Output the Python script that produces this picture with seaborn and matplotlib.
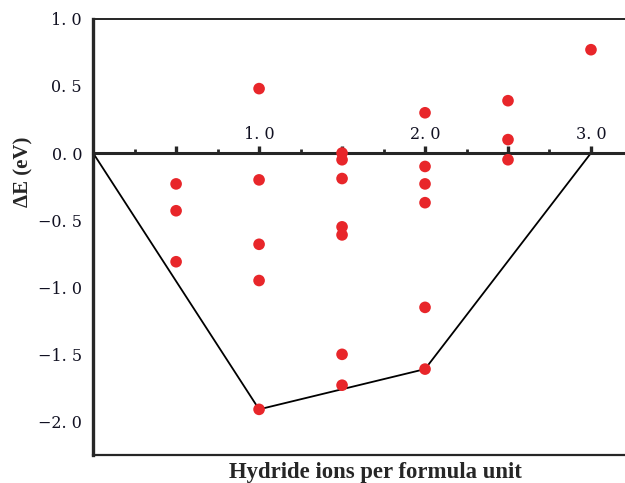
import pandas as pd
import matplotlib.pyplot as plt
import seaborn as sns
from matplotlib.ticker import FixedLocator, FuncFormatter

# -----------------------------
# Data
# -----------------------------

x_h05 = [0.5, 0.5, 0.5]
e_h05 = [-0.23, -0.43, -0.81]
x_h10 = [1.0, 1.0, 1.0, 1.0, 1.0]
e_h10 = [0.48, -0.20, -0.68, -0.95, -1.91]
x_h15 = [1.5, 1.5, 1.5, 1.5, 1.5, 1.5, 1.5]
e_h15 = [0.0, -0.05, -0.19, -0.55, -0.61, -1.50, -1.73]
x_h20 = [2.0, 2.0, 2.0, 2.0, 2.0, 2.0]
e_h20 = [0.30, -0.10, -0.23, -0.37, -1.15, -1.61]
x_h25 = [2.5, 2.5, 2.5]
e_h25 = [0.39, 0.10, -0.05]
x_h30 = [3.0]
e_h30 = [0.77]

hull_x = [0.0, 1.0, 2.0, 3.0]
hull_e = [0.0, -1.91, -1.61, 0.0]

points = pd.DataFrame({
    "x": x_h05 + x_h10 + x_h15 + x_h20 + x_h25 + x_h30,
    "dE": e_h05 + e_h10 + e_h15 + e_h20 + e_h25 + e_h30,
})
hull = pd.DataFrame({"x": hull_x, "dE": hull_e})

# -----------------------------
# Plot
# -----------------------------

sns.set_style("white")
plt.rcParams["font.family"] = ["DejaVu Serif"]

fig = plt.figure(figsize=(6.25, 4.83), dpi=100)
ax = fig.add_axes([0.149, 0.058, 0.851, 0.903])

sns.lineplot(data=hull, x="x", y="dE", sort=False, color="black",
             linewidth=1.3, ax=ax, zorder=2)
sns.scatterplot(data=points, x="x", y="dE", color="#e8262a", s=70,
                edgecolor="none", ax=ax, zorder=3, clip_on=False)

ax.set_xlim(0, 3.205)
ax.set_ylim(-2.25, 1.0)

# x axis drawn through zero, ticks and labels above it
ax.spines["top"].set_position(("data", 0))
ax.spines["top"].set_linewidth(2.2)
ax.spines["left"].set_linewidth(2.4)
ax.spines["bottom"].set_linewidth(1.6)
ax.spines["right"].set_visible(False)
ax.axhline(1.0, color="black", linewidth=1.2, clip_on=False)

ax.xaxis.set_ticks_position("top")
ax.xaxis.set_label_position("bottom")
ax.xaxis.set_major_locator(FixedLocator([0.5, 1.0, 1.5, 2.0, 2.5, 3.0]))
ax.xaxis.set_minor_locator(FixedLocator([0.25, 0.75, 1.25, 1.75, 2.25, 2.75]))
ax.xaxis.set_major_formatter(
    FuncFormatter(lambda v, p: f"{v:.1f}".replace(".", ". ") if v % 1 == 0 else ""))

ax.yaxis.set_major_locator(FixedLocator([-2.0, -1.5, -1.0, -0.5, 0.0, 0.5, 1.0]))
ax.yaxis.set_minor_locator(FixedLocator([-2.25, -1.75, -1.25, -0.75, -0.25, 0.25, 0.75]))
ax.yaxis.set_major_formatter(
    FuncFormatter(lambda v, p: f"{v:.1f}".replace(".", ". ").replace("-", "\u2212")))

ax.tick_params(axis="x", which="major", direction="out", length=5, width=2.4,
               labelsize=11.5, pad=2, labelcolor="#111122")
ax.tick_params(axis="x", which="minor", direction="out", length=3, width=2)
ax.tick_params(axis="y", which="major", direction="out", length=6, width=2.4,
               labelsize=11.5, pad=2, labelcolor="#111122")
ax.tick_params(axis="y", which="minor", direction="out", length=3, width=2)

ax.set_xlabel("Hydride ions per formula unit", fontsize=16.4, fontweight="bold",
              family=["Liberation Serif"])
ax.xaxis.set_label_coords(0.531, -0.016)
ax.set_ylabel("\u0394E (eV)", fontsize=15, fontweight="bold",
              family=["Liberation Serif"])
ax.yaxis.set_label_coords(-0.113, 0.65)

plt.savefig("out.png", dpi=100)
plt.close()

print("Saved out.png")
